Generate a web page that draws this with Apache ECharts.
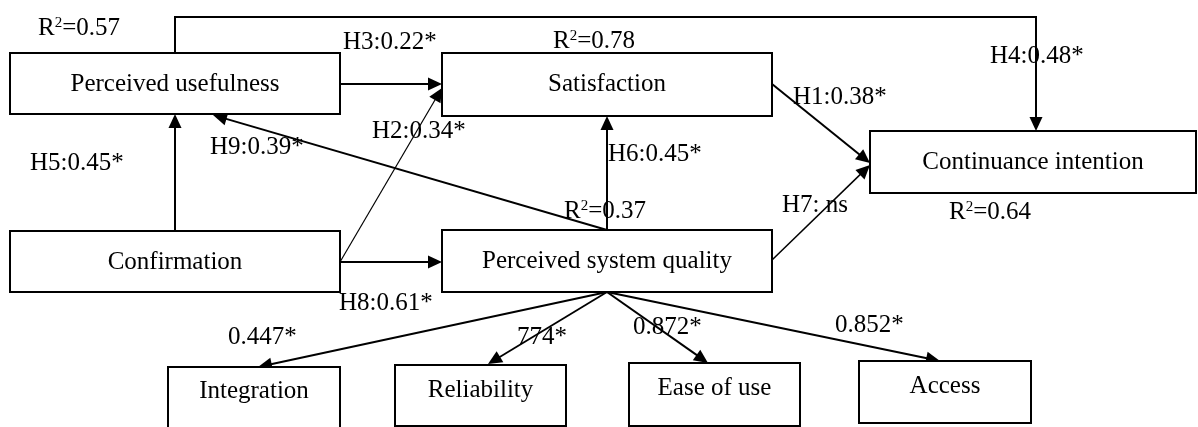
<!DOCTYPE html>
<html><head><meta charset="utf-8">
<script src="https://cdn.jsdelivr.net/npm/echarts@6/dist/echarts.min.js"></script>
<style>html,body{margin:0;padding:0;background:#fff}#c{width:1198px;height:427px}</style>
</head><body><div id="c"></div>
<script>
// ---- content (text / values) ----
const constructs = ['Perceived usefulness','Satisfaction','Continuance intention','Confirmation','Perceived system quality','Integration','Reliability','Ease of use','Access'];
const rSquaredValues = ['0.57','0.78','0.64','0.37'];
const hypotheses = ['H1:0.38*','H2:0.34*','H3:0.22*','H4:0.48*','H5:0.45*','H6:0.45*','H7: ns','H8:0.61*','H9:0.39*'];
const loadings = ['0.447*','774*','0.872*','0.852*'];

// ---- layout (diagram coordinates on hidden value axes) ----
const boxX1 = [10,442,870,10,442,168,395,629,859];
const boxY1 = [53,53,131,231,230,367,365,363,361];
const boxX2 = [340,772,1196,340,772,340,566,800,1031];
const boxY2 = [114,116,193,292,292,432,426,426,423];
const boxTextY = [84,84,162,262,261,391,390,388,386];

const rSqPos = [[38,28],[553,41],[949,212],[564,211]];
const hypPos = [[793,97],[372,131],[343,42],[990,56],[30,163],[608,154],[782,205],[339,303],[210,147]];
const loadPos = [[228,337],[517,337],[633,327],[835,325]];

const edgePaths = [
  [[772,84],[870,163]],                 // H1 Sat -> CI
  [[340,262],[442,88]],                 // H2 Conf -> Sat
  [[340,84],[442,84]],                  // H3 PU -> Sat
  [[175,53],[175,17],[1036,17],[1036,131]], // H4 PU -> CI
  [[175,231],[175,114]],                // H5 Conf -> PU
  [[607,230],[607,116]],                // H6 PSQ -> Sat
  [[772,260],[870,165]],                // H7 PSQ -> CI
  [[340,262],[442,262]],                // H8 Conf -> PSQ
  [[607,230],[213,115]],                // H9 PSQ -> PU
  [[607,292],[258,367]],
  [[607,292],[488,364]],
  [[607,292],[708,363]],
  [[607,292],[940,361]]
];
const edgeWidth = [2,1.2,2,2,2,2,1.5,2,2,2,1.8,2,2];

const FAMILY = '"Liberation Serif", "Times New Roman", serif';
const FONT = '25px ' + FAMILY;

function arrow(pts, lw, api) {
  const P = pts.map(p => api.coord(p));
  const n = P.length;
  const a = P[n-2], b = P[n-1];
  const dx = b[0]-a[0], dy = b[1]-a[1], len = Math.hypot(dx,dy);
  const ux = dx/len, uy = dy/len;
  const L = 14, W = 6.5;
  const base = [b[0]-ux*L, b[1]-uy*L];
  const linePts = P.slice(0,n-1).concat([[b[0]-ux*L*0.6, b[1]-uy*L*0.6]]);
  return {type:'group', children:[
    {type:'polyline', shape:{points:linePts}, style:{stroke:'#000', lineWidth:lw, fill:null}},
    {type:'polygon', shape:{points:[b,[base[0]-uy*W, base[1]+ux*W],[base[0]+uy*W, base[1]-ux*W]]}, style:{fill:'#000', stroke:null}}
  ]};
}

const textItems = [];
rSquaredValues.forEach((t,i)=>textItems.push(['{a|R}{s|2}{a|=' + t + '}', rSqPos[i]]));
hypotheses.forEach((t,i)=>textItems.push([t, hypPos[i]]));
loadings.forEach((t,i)=>textItems.push([t, loadPos[i]]));

const chart = echarts.init(document.getElementById('c'), null, {renderer:'canvas'});
chart.setOption({
  animation:false,
  backgroundColor:'#fff',
  grid:{left:0,right:0,top:0,bottom:0},
  xAxis:{type:'value',min:0,max:1198,show:false},
  yAxis:{type:'value',min:0,max:427,inverse:true,show:false},
  series:[
    {
      type:'custom', clip:false, silent:true,
      data: edgePaths.map((p,i)=>[i]),
      renderItem:(params, api)=>{
        const i = params.dataIndex;
        return arrow(edgePaths[i], edgeWidth[i], api);
      }
    },
    {
      type:'custom', clip:false, silent:true,
      data: constructs.map((c,i)=>[i]),
      renderItem:(params, api)=>{
        const i = params.dataIndex;
        const p1 = api.coord([boxX1[i], boxY1[i]]);
        const p2 = api.coord([boxX2[i], boxY2[i]]);
        const cx = (p1[0]+p2[0])/2;
        const ty = api.coord([0, boxTextY[i]])[1];
        return {type:'group', children:[
          {type:'rect', shape:{x:p1[0], y:p1[1], width:p2[0]-p1[0], height:p2[1]-p1[1]},
           style:{fill:'#fff', stroke:'#000', lineWidth:2}},
          {type:'text', style:{text:constructs[i], x:cx, y:ty, font:FONT, fill:'#000', align:'center', verticalAlign:'middle'}}
        ]};
      }
    },
    {
      type:'custom', clip:false, silent:true,
      data: textItems.map((t,i)=>[i]),
      renderItem:(params, api)=>{
        const it = textItems[params.dataIndex];
        const p = api.coord(it[1]);
        return {type:'text', style:{text:it[0], x:p[0], y:p[1], font:FONT, fill:'#000', align:'left', verticalAlign:'middle',
          rich:{a:{font:FONT, fill:'#000'}, s:{font:'15px ' + FAMILY, fill:'#000', verticalAlign:'top'}}}};
      }
    }
  ]
});
</script>
</body></html>
